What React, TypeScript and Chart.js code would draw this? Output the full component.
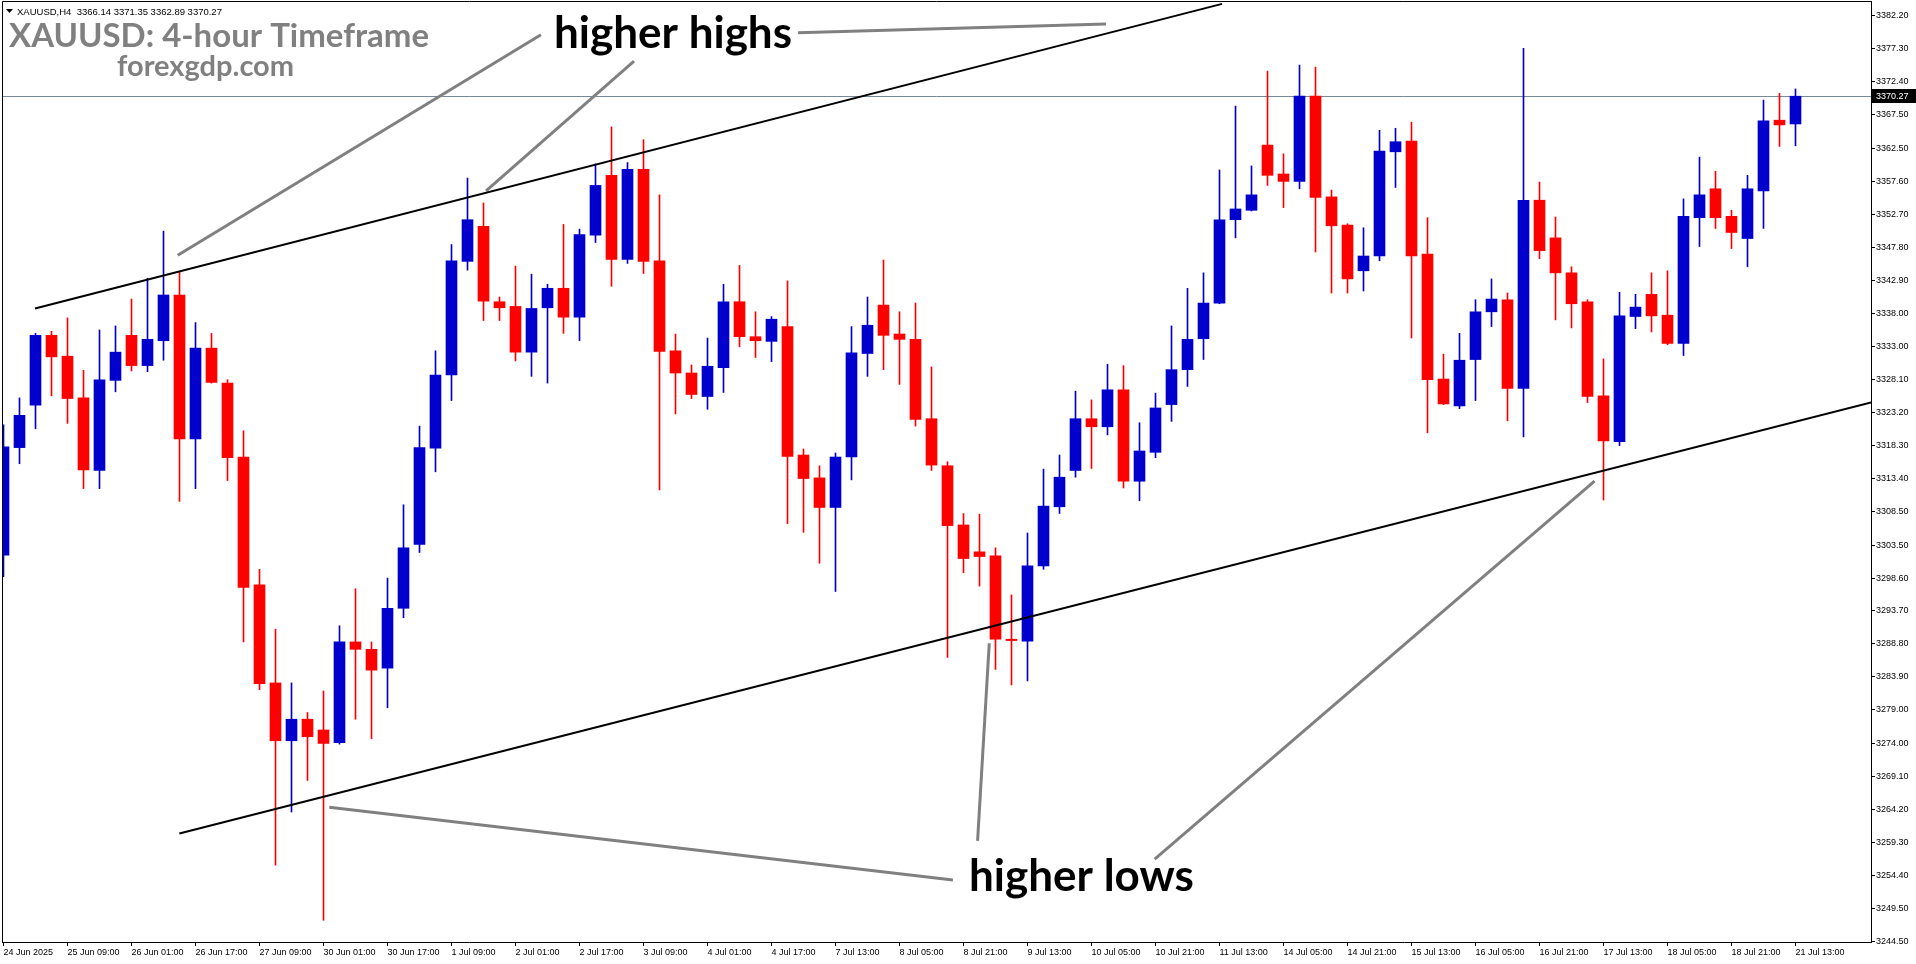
import React, { useEffect, useRef } from "react";
import { Chart, registerables } from "chart.js";

Chart.register(...registerables);

// ---------- data ----------
const X_LABELS = [
  "24 Jun 2025", "25 Jun 09:00", "26 Jun 01:00", "26 Jun 17:00", "27 Jun 09:00",
  "30 Jun 01:00", "30 Jun 17:00", "1 Jul 09:00", "2 Jul 01:00", "2 Jul 17:00",
  "3 Jul 09:00", "4 Jul 01:00", "4 Jul 17:00", "7 Jul 13:00", "8 Jul 05:00",
  "8 Jul 21:00", "9 Jul 13:00", "10 Jul 05:00", "10 Jul 21:00", "11 Jul 13:00",
  "14 Jul 05:00", "14 Jul 21:00", "15 Jul 13:00", "16 Jul 05:00", "16 Jul 21:00",
  "17 Jul 13:00", "18 Jul 05:00", "18 Jul 21:00", "21 Jul 13:00",
];
const X_TICK_IDX = [
  0, 4, 8, 12, 16, 20, 24, 28, 32, 36, 40, 44, 48, 52, 56, 60, 64, 68, 72, 76,
  80, 84, 88, 92, 96, 100, 104, 108, 112,
];
const Y_TICKS = [
  3382.2, 3377.3, 3372.4, 3367.5, 3362.5, 3357.6, 3352.7, 3347.8, 3342.9, 3338.0,
  3333.0, 3328.1, 3323.2, 3318.3, 3313.4, 3308.5, 3303.5, 3298.6, 3293.7, 3288.8,
  3283.9, 3279.0, 3274.0, 3269.1, 3264.2, 3259.3, 3254.4, 3249.5, 3244.5,
];

const OPEN = [
  3302.0, 3318.0, 3324.3, 3334.7, 3331.6, 3325.4, 3314.6, 3328.0, 3334.7, 3330.2,
  3333.9, 3340.7, 3319.3, 3332.8, 3327.6, 3316.6, 3297.6, 3283.0, 3274.4, 3277.6,
  3276.0, 3274.1, 3289.1, 3288.0, 3285.2, 3294.1, 3303.6, 3317.9, 3328.8, 3345.7,
  3350.9, 3339.7, 3339.0, 3332.2, 3338.8, 3341.7, 3337.4, 3349.6, 3358.5, 3346.0,
  3359.4, 3345.8, 3332.4, 3329.1, 3325.6, 3329.9, 3339.7, 3334.5, 3333.8, 3336.0,
  3316.9, 3313.5, 3309.1, 3316.6, 3332.0, 3339.2, 3334.9, 3334.1, 3322.3, 3315.3,
  3306.5, 3302.5, 3301.9, 3289.5, 3289.2, 3300.4, 3309.2, 3314.6, 3322.3, 3321.1,
  3326.6, 3313.0, 3317.3, 3324.4, 3329.6, 3334.2, 3339.5, 3351.9, 3353.3, 3363.0,
  3358.7, 3357.6, 3370.3, 3355.3, 3351.1, 3344.3, 3346.5, 3362.0, 3363.6, 3346.8,
  3328.2, 3324.2, 3331.1, 3338.2, 3340.0, 3326.8, 3354.8, 3349.2, 3344.0, 3339.7,
  3325.7, 3318.9, 3337.5, 3340.8, 3337.7, 3333.5, 3352.2, 3356.5, 3352.4, 3349.1,
  3356.2, 3366.7, 3366.14,
];
const HIGH = [
  3321.4, 3325.4, 3335.0, 3335.3, 3337.3, 3329.5, 3335.5, 3336.1, 3340.1, 3343.2,
  3350.2, 3344.2, 3336.6, 3335.0, 3328.1, 3320.5, 3299.9, 3291.0, 3283.0, 3278.6,
  3281.8, 3291.5, 3297.0, 3289.1, 3298.6, 3309.5, 3321.2, 3332.4, 3348.2, 3358.1,
  3354.4, 3340.4, 3345.0, 3343.8, 3342.3, 3351.2, 3350.5, 3360.2, 3365.7, 3360.4,
  3363.8, 3355.6, 3334.9, 3330.3, 3334.3, 3342.3, 3345.1, 3338.2, 3337.5, 3342.8,
  3317.8, 3315.3, 3317.2, 3336.0, 3340.4, 3345.9, 3338.2, 3339.5, 3330.0, 3315.9,
  3308.2, 3308.1, 3303.1, 3296.1, 3305.3, 3314.8, 3316.9, 3326.4, 3325.1, 3330.4,
  3330.2, 3321.7, 3326.1, 3336.1, 3341.7, 3344.0, 3359.3, 3368.8, 3359.9, 3374.0,
  3361.7, 3374.9, 3374.6, 3356.3, 3351.3, 3350.7, 3365.2, 3365.5, 3366.4, 3352.2,
  3331.9, 3335.0, 3340.0, 3343.1, 3341.0, 3377.4, 3357.5, 3352.3, 3344.9, 3340.0,
  3331.2, 3341.1, 3340.8, 3344.0, 3344.3, 3355.0, 3361.2, 3359.1, 3353.3, 3358.5,
  3369.7, 3370.7, 3371.35,
];
const LOW = [
  3298.8, 3315.6, 3320.8, 3325.7, 3321.6, 3311.9, 3311.9, 3326.3, 3329.4, 3329.3,
  3331.0, 3310.0, 3311.9, 3327.6, 3313.1, 3289.1, 3282.0, 3255.9, 3263.8, 3268.5,
  3247.7, 3273.9, 3277.6, 3274.7, 3279.3, 3292.7, 3302.4, 3314.4, 3325.0, 3344.4,
  3336.9, 3336.9, 3330.9, 3328.6, 3327.6, 3335.0, 3333.9, 3348.5, 3342.0, 3345.4,
  3343.9, 3311.7, 3323.0, 3325.3, 3323.7, 3326.2, 3333.0, 3331.4, 3330.8, 3306.7,
  3305.4, 3300.8, 3296.6, 3313.2, 3328.6, 3329.6, 3327.4, 3321.2, 3314.6, 3286.8,
  3299.4, 3297.4, 3285.0, 3282.7, 3283.3, 3299.9, 3308.2, 3313.6, 3314.9, 3319.9,
  3312.0, 3310.1, 3316.5, 3321.9, 3327.1, 3331.1, 3339.4, 3349.2, 3353.2, 3357.0,
  3353.7, 3356.5, 3347.1, 3341.0, 3341.0, 3341.3, 3345.8, 3356.7, 3334.3, 3320.2,
  3324.4, 3323.8, 3325.0, 3336.0, 3322.0, 3319.6, 3346.1, 3337.0, 3335.8, 3324.7,
  3310.2, 3318.3, 3335.7, 3335.2, 3333.3, 3331.7, 3347.9, 3350.6, 3347.6, 3344.9,
  3350.6, 3362.8, 3362.89,
];
const CLOSE = [
  3318.1, 3322.8, 3334.7, 3331.5, 3325.3, 3314.7, 3328.1, 3332.2, 3330.2, 3334.1,
  3340.7, 3319.3, 3332.8, 3327.7, 3316.5, 3297.2, 3282.9, 3274.4, 3277.6, 3275.0,
  3274.0, 3289.1, 3288.0, 3284.9, 3294.1, 3303.1, 3318.0, 3328.8, 3345.8, 3351.9,
  3339.8, 3338.8, 3332.2, 3338.7, 3341.7, 3337.4, 3349.7, 3357.0, 3346.0, 3359.4,
  3345.7, 3332.3, 3329.1, 3325.9, 3330.1, 3339.7, 3334.5, 3333.9, 3337.1, 3316.7,
  3313.4, 3309.1, 3316.6, 3332.1, 3336.2, 3334.7, 3334.1, 3322.2, 3315.4, 3306.4,
  3301.5, 3301.8, 3289.5, 3289.3, 3300.4, 3309.3, 3313.6, 3322.3, 3321.1, 3326.6,
  3313.0, 3317.5, 3323.9, 3329.6, 3334.1, 3339.5, 3351.9, 3353.5, 3355.6, 3358.5,
  3357.6, 3370.3, 3355.2, 3351.0, 3343.1, 3346.5, 3362.1, 3363.5, 3346.5, 3328.1,
  3324.5, 3331.0, 3338.2, 3340.1, 3326.8, 3354.8, 3347.3, 3344.0, 3339.4, 3325.6,
  3319.0, 3337.6, 3338.9, 3337.6, 3333.5, 3352.4, 3355.6, 3352.2, 3350.0, 3356.5,
  3366.6, 3366.0, 3370.27,
];

const LAST_PRICE = 3370.27;
const HEADER_TEXT = "XAUUSD,H4  3366.14 3371.35 3362.89 3370.27";

// trend lines and pointer lines in data space: x = bar index, y = price
const UPPER_CHANNEL = [{ x: 1.97, y: 3338.7 }, { x: 76.16, y: 3384.0 }];
const LOWER_CHANNEL = [{ x: 10.99, y: 3260.6 }, { x: 116.72, y: 3324.7 }];
const HH_POINTER_1 = [{ x: 10.89, y: 3346.6 }, { x: 33.59, y: 3379.4 }];
const HH_POINTER_2 = [{ x: 30.16, y: 3356.2 }, { x: 39.41, y: 3375.5 }];
const HH_POINTER_3 = [{ x: 49.66, y: 3379.7 }, { x: 68.91, y: 3381.0 }];
const HL_POINTER_1 = [{ x: 20.36, y: 3264.5 }, { x: 59.34, y: 3253.7 }];
const HL_POINTER_2 = [{ x: 61.61, y: 3288.9 }, { x: 60.88, y: 3259.5 }];
const HL_POINTER_3 = [{ x: 99.44, y: 3313.0 }, { x: 71.95, y: 3256.8 }];

// axis ranges
const X_MIN = -0.09375;
const X_MAX = 116.71875;
const Y_MIN = 3244.465;
const Y_MAX = 3384.431;

const BULL = "#0000CD";
const BEAR = "#FF0000";
const NOTE_GRAY = "#808080";
const FONT = "'Liberation Sans', Arial, sans-serif";

const overlayPlugin = {
  id: "overlay",
  beforeDatasetsDraw(chart: any) {
    const { ctx, chartArea: a, scales } = chart;
    const py = Math.round(scales.y.getPixelForValue(LAST_PRICE)) + 0.5;
    ctx.save();
    ctx.strokeStyle = "#778899";
    ctx.lineWidth = 1;
    ctx.beginPath();
    ctx.moveTo(a.left, py);
    ctx.lineTo(a.right, py);
    ctx.stroke();
    ctx.restore();
  },
  afterDraw(chart: any) {
    const { ctx, chartArea: a, scales, width } = chart;
    ctx.save();
    // frame (left & top)
    ctx.strokeStyle = "#000";
    ctx.lineWidth = 1;
    ctx.beginPath();
    ctx.moveTo(a.left + 0.5, a.bottom);
    ctx.lineTo(a.left + 0.5, a.top + 0.5);
    ctx.lineTo(a.right, a.top + 0.5);
    ctx.stroke();

    // price box
    const py = Math.round(scales.y.getPixelForValue(LAST_PRICE));
    ctx.fillStyle = "#000";
    ctx.fillRect(a.right + 1, py - 7, width - a.right - 1, 14);
    ctx.fillStyle = "#fff";
    ctx.font = `9px ${FONT}`;
    ctx.textBaseline = "middle";
    ctx.textAlign = "left";
    ctx.fillText(LAST_PRICE.toFixed(2), a.right + 5, py + 0.5);

    // header
    ctx.fillStyle = "#000";
    ctx.beginPath();
    ctx.moveTo(6, 9);
    ctx.lineTo(13, 9);
    ctx.lineTo(9.5, 13);
    ctx.closePath();
    ctx.fill();
    ctx.font = `9.5px ${FONT}`;
    ctx.textBaseline = "alphabetic";
    ctx.fillText(HEADER_TEXT, 17, 15);

    // title
    ctx.fillStyle = "#808080";
    ctx.font = `bold 33px Lato, ${FONT}`;
    ctx.fillText("XAUUSD: 4-hour Timeframe", 9, 47);
    ctx.font = `bold 29px Lato, ${FONT}`;
    ctx.fillText("forexgdp.com", 117, 76);

    // annotation labels
    ctx.fillStyle = "#000";
    ctx.font = `bold 44px Lato, ${FONT}`;
    ctx.fillText("higher highs", 554, 48);
    ctx.fillText("higher lows", 969, 891);
    ctx.restore();
  },
};

function lineDs(data: { x: number; y: number }[], color: string, w: number) {
  return {
    type: "line" as const,
    data,
    borderColor: color,
    borderWidth: w,
    pointRadius: 0,
    fill: false,
    tension: 0,
    order: 0,
  };
}

export default function App() {
  const ref = useRef<HTMLCanvasElement | null>(null);

  useEffect(() => {
    if (!ref.current) return;
    const idx = OPEN.map((_, i) => i);
    const colors = idx.map((i) => (CLOSE[i] >= OPEN[i] ? BULL : BEAR));

    const chart = new Chart(ref.current, {
      type: "bar",
      data: {
        datasets: [
          {
            type: "bar",
            data: idx.map((i) => ({ x: i, y: [OPEN[i], CLOSE[i]] })) as any,
            backgroundColor: colors,
            borderWidth: 0,
            barThickness: 11,
            grouped: false,
            minBarLength: 1,
            clip: 0,
            order: 1,
          } as any,
          {
            type: "bar",
            data: idx.map((i) => ({ x: i, y: [LOW[i], HIGH[i]] })) as any,
            backgroundColor: colors,
            borderWidth: 0,
            barThickness: 1,
            grouped: false,
            clip: 0,
            order: 2,
          } as any,
          lineDs(UPPER_CHANNEL, "#000", 2),
          lineDs(LOWER_CHANNEL, "#000", 2),
          lineDs(HH_POINTER_1, NOTE_GRAY, 3),
          lineDs(HH_POINTER_2, NOTE_GRAY, 3),
          lineDs(HH_POINTER_3, NOTE_GRAY, 3),
          lineDs(HL_POINTER_1, NOTE_GRAY, 3),
          lineDs(HL_POINTER_2, NOTE_GRAY, 3),
          lineDs(HL_POINTER_3, NOTE_GRAY, 3),
        ] as any,
      },
      options: {
        animation: false,
        responsive: false,
        devicePixelRatio: 1,
        layout: { padding: { left: 2, top: 1, right: 0, bottom: 0 } },
        plugins: { legend: { display: false }, tooltip: { enabled: false } },
        scales: {
          x: {
            type: "linear",
            offset: false,
            min: X_MIN,
            max: X_MAX,
            grid: { offset: false, drawOnChartArea: false, drawTicks: true, tickLength: 4, tickColor: "#000" },
            border: { display: true, color: "#000", width: 1 },
            ticks: {
              autoSkip: false,
              maxRotation: 0,
              minRotation: 0,
              align: "start",
              padding: 1,
              color: "#000",
              font: { size: 9, family: FONT },
              callback: (v: any) => {
                const k = X_TICK_IDX.indexOf(Number(v));
                return k >= 0 ? X_LABELS[k] : "";
              },
            },
            afterBuildTicks: (s: any) => {
              s.ticks = X_TICK_IDX.map((v) => ({ value: v }));
            },
            afterFit: (s: any) => {
              s.height = 22;
              s.paddingLeft = 0;
              s.paddingRight = 0;
            },
          },
          y: {
            type: "linear",
            position: "right",
            min: Y_MIN,
            max: Y_MAX,
            grid: { drawOnChartArea: false, drawTicks: true, tickLength: 4, tickColor: "#000" },
            border: { display: true, color: "#000", width: 1 },
            ticks: {
              autoSkip: false,
              padding: 1,
              color: "#000",
              font: { size: 9, family: FONT },
              callback: (v: any) => Number(v).toFixed(2),
            },
            afterBuildTicks: (s: any) => {
              s.ticks = Y_TICKS.map((v) => ({ value: v }));
            },
            afterFit: (s: any) => {
              s.width = 45;
              s.paddingTop = 0;
              s.paddingBottom = 0;
            },
          },
        },
      } as any,
      plugins: [overlayPlugin],
    });
    return () => chart.destroy();
  }, []);

  return (
    <div style={{ position: "absolute", left: 0, top: 0, width: 1916, height: 964, background: "#fff" }}>
      <canvas ref={ref} width={1916} height={964} style={{ display: "block", width: 1916, height: 964 }} />
    </div>
  );
}
